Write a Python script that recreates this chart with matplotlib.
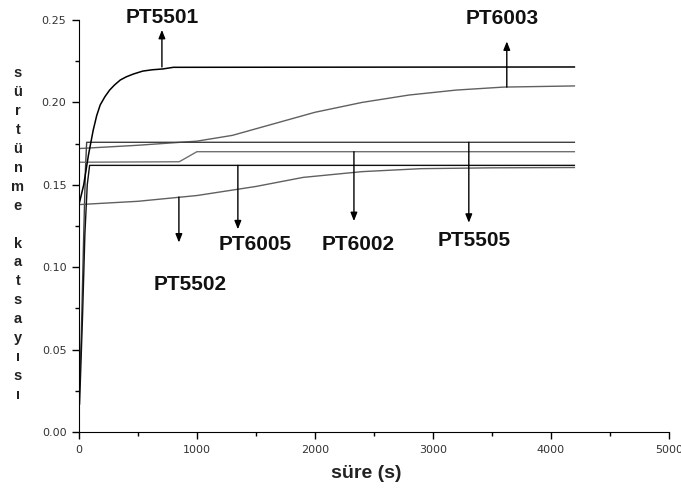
import matplotlib.pyplot as plt
from matplotlib.ticker import MultipleLocator, FormatStrFormatter

# friction coefficient vs time
t_5501 = [0, 40, 80, 120, 150, 180, 220, 260, 300, 350, 400, 460, 540, 620, 710, 800, 4200]
mu_5501 = [0.138, 0.150, 0.168, 0.183, 0.192, 0.1985, 0.2035, 0.2075, 0.2105, 0.2136,
           0.2155, 0.2172, 0.219, 0.2198, 0.2203, 0.2213, 0.2215]

t_6003 = [0, 500, 1000, 1300, 1600, 2000, 2400, 2800, 3200, 3600, 4200]
mu_6003 = [0.172, 0.174, 0.1765, 0.180, 0.186, 0.194, 0.200, 0.2045, 0.2075, 0.2093, 0.2100]

t_5505 = [0, 20, 40, 55, 65, 4200]
mu_5505 = [0.017, 0.060, 0.120, 0.160, 0.1758, 0.1758]

t_6002 = [0, 850, 1000, 4200]
mu_6002 = [0.1637, 0.1640, 0.1701, 0.1701]

t_6005 = [5, 30, 50, 70, 90, 4200]
mu_6005 = [0.017, 0.070, 0.120, 0.150, 0.1618, 0.1618]

t_5502 = [0, 500, 1000, 1500, 1900, 2400, 2900, 3500, 4200]
mu_5502 = [0.138, 0.140, 0.1435, 0.149, 0.1545, 0.158, 0.1598, 0.1603, 0.1605]

plt.rcParams['font.family'] = ['Liberation Sans', 'DejaVu Sans']

fig = plt.figure(figsize=(6.81, 4.93), dpi=100)
ax = fig.add_axes([0.116, 0.1237, 0.866, 0.8357])

ax.plot(t_6003, mu_6003, color='#606060', lw=1.0)
ax.plot(t_5505, mu_5505, color='#404040', lw=1.0)
ax.plot(t_6002, mu_6002, color='#707070', lw=1.0)
ax.plot(t_5502, mu_5502, color='#606060', lw=1.0)
ax.plot(t_6005, mu_6005, color='#101010', lw=1.0)
ax.plot(t_5501, mu_5501, color='black', lw=1.1)

ax.set_xlim(0, 5000)
ax.set_ylim(0, 0.25)
ax.xaxis.set_major_locator(MultipleLocator(1000))
ax.xaxis.set_minor_locator(MultipleLocator(500))
ax.yaxis.set_major_locator(MultipleLocator(0.05))
ax.yaxis.set_minor_locator(MultipleLocator(0.025))
ax.yaxis.set_major_formatter(FormatStrFormatter('%.2f'))
ax.spines['top'].set_visible(False)
ax.spines['right'].set_visible(False)
ax.spines['left'].set_clip_on(False)
ax.tick_params(which='major', direction='out', length=5, width=1, labelsize=8,
               labelcolor='#333333', pad=4)
ax.tick_params(which='minor', direction='out', length=3, width=1)
for lab in ax.get_xticklabels() + ax.get_yticklabels():
    lab.set_fontfamily('DejaVu Sans')

# labels with arrows: (text, text x, text y, arrow x, arrow start, arrow end)
notes = [
    ("PT5501", 703, 0.2518, 703, 0.2215, 0.244),
    ("PT6003", 3585, 0.2512, 3627, 0.2093, 0.237),
    ("PT5502", 940, 0.0898, 847, 0.1426, 0.115),
    ("PT6005", 1492, 0.1135, 1347, 0.1618, 0.123),
    ("PT6002", 2364, 0.1135, 2331, 0.1701, 0.128),
    ("PT5505", 3347, 0.1165, 3305, 0.1758, 0.127),
]
for name, tx, ty, axx, y0, y1 in notes:
    ax.annotate("", xy=(axx, y1), xytext=(axx, y0),
                arrowprops=dict(arrowstyle='-|>,head_length=0.5,head_width=0.2',
                                color='black', lw=1.0, shrinkA=0, shrinkB=0))
    ax.text(tx, ty, name, ha='center', va='center', fontsize=15,
            fontweight='bold', color='#111111', clip_on=False)

fig.text(366 / 681, 1 - 473 / 493, "süre (s)", ha='center', va='center',
         fontsize=14, fontweight='bold', color='#222222')
fig.text(18 / 681, 1 - 66 / 493, "\n".join("sürtünme katsayısı"), ha='center',
         va='top', fontsize=10.5, fontweight='bold', color='#222222',
         linespacing=1.45, multialignment='center')

fig.savefig("out.png", dpi=100)
